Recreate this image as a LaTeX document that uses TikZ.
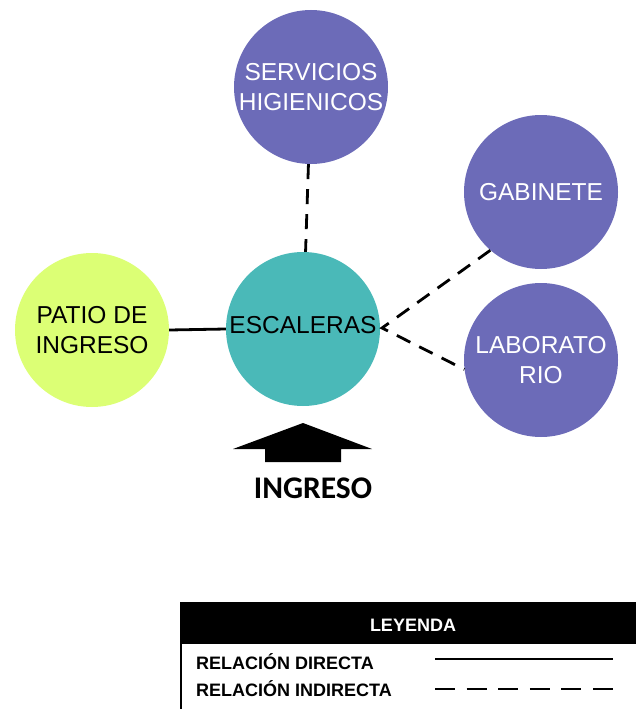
\documentclass[tikz,border=0pt]{standalone}
\usepackage{fontspec}
\setmainfont{Liberation Sans}
\newfontfamily\calibri{Carlito}
\definecolor{purp}{HTML}{6C6BB8}
\definecolor{teal2}{HTML}{4AB9B8}
\definecolor{lime2}{HTML}{DCFF75}
\begin{document}
\begin{tikzpicture}[x=1pt,y=-1pt,
  room/.style={circle,minimum size=154pt,inner sep=0pt,align=center,font=\fontsize{24.5}{30}\selectfont},
  purpleroom/.style={room,fill=purp,text=white},
  direct/.style={line width=2.8pt,black},
  indirect/.style={line width=2.8pt,black,dash pattern=on 15pt off 10pt},
  legtext/.style={font=\bfseries\fontsize{18}{20}\selectfont,anchor=base west,inner sep=0pt}]
\useasboundingbox (0,0) rectangle (636,709);
% rooms
\node[purpleroom] (serv) at (311,87) {SERVICIOS\\HIGIENICOS};
\node[purpleroom] (gab) at (541,192) {GABINETE};
\node[purpleroom] (lab) at (541,360) {LABORATO\\RIO};
\node[room,fill=teal2] (esc) at (303,329) {};
\node[room,fill=lime2] (patio) at (92,330) {PATIO DE\\INGRESO};
% connectors
\coordinate (hub) at (382,328);
\draw[direct] (patio.east) -- (esc.west);
\draw[indirect] (serv) -- (esc);
\draw[indirect] (gab.229) -- (hub) -- (lab.187);
\node[font=\fontsize{24.5}{30}\selectfont,inner sep=0pt] (esclabel) at (303,325) {ESCALERAS};
% ingreso arrow
\fill[black] (233,449) -- (303,423) -- (372,449) -- (341,449) -- (341,462) -- (265,462) -- (265,449) -- cycle;
\node[font=\calibri\bfseries\fontsize{31.5}{34}\selectfont,inner sep=0pt] (ingreso) at (313,488) {INGRESO};
% legend
\fill[black] (180,602) rectangle (645,644);
\draw[line width=2pt] (181,603) rectangle (645,720);
\node[text=white,font=\bfseries\fontsize{18}{20}\selectfont,inner sep=0pt] (leyenda) at (413,625) {LEYENDA};
\node[legtext] (ldir) at (196,669) {RELACIÓN DIRECTA};
\node[legtext] (lind) at (196,696) {RELACIÓN INDIRECTA};
\coordinate (d1) at (435,659);
\coordinate (d2) at (613,659);
\coordinate (i1) at (435,689);
\coordinate (i2) at (613,689);
\draw[line width=2.4pt] (d1) -- (d2);
\draw[line width=2.4pt,dash pattern=on 20pt off 11.6pt] (i1) -- (i2);
\end{tikzpicture}
\end{document}
